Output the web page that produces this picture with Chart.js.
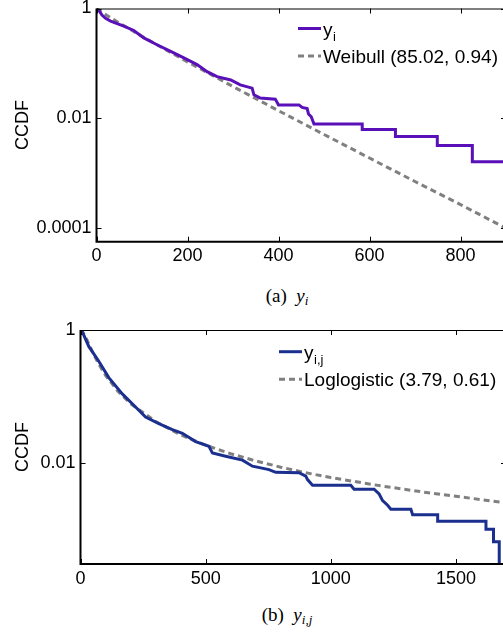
<!DOCTYPE html>
<html>
<head>
<meta charset="utf-8">
<script src="https://cdn.jsdelivr.net/npm/chart.js@4"></script>
<style>
  body { margin: 0; background: #fff; overflow: hidden; width: 503px; height: 635px; }
  .box { position: absolute; left: 0; }
  .cap { position: absolute; left: 187px; width: 200px; text-align: center;
         font-family: "Liberation Serif", "DejaVu Serif", serif; font-size: 19px; color: #000; }
  .cap i sub { font-size: 13px; vertical-align: -3px; line-height: 0; }
</style>
</head>
<body>
<div class="box" style="top:0"><canvas id="chartA" width="506" height="275"></canvas></div>
<div class="cap" style="top:285px">(a)&nbsp; <i>y<sub>i</sub></i></div>
<div class="box" style="top:320px"><canvas id="chartB" width="506" height="280"></canvas></div>
<div class="cap" style="top:604px">(b)&nbsp; <i>y<sub>i,j</sub></i></div>
<script>
// (a) empirical CCDF of y_i and Weibull fit
const aX = [0, 5, 12, 20, 31, 60, 82, 104, 133, 163, 192, 221, 243, 265, 295, 316, 342, 346, 360, 393,
            400, 445, 452, 463, 466, 472, 478, 584, 584, 657, 657, 749, 749, 826, 826, 900];
const aY = [1, 0.933, 0.759, 0.661, 0.589, 0.479, 0.398, 0.291, 0.219, 0.166, 0.126, 0.0955, 0.0708, 0.0575,
            0.0501, 0.0407, 0.0355, 0.0269, 0.0234, 0.0224, 0.0176, 0.0176, 0.0158, 0.0151, 0.012, 0.0107,
            0.0079, 0.0079, 0.0063, 0.0063, 0.0047, 0.0047, 0.0032, 0.0032, 0.00162, 0.00162];
const aFitX = [0, 10, 25, 50, 100, 150, 200, 300, 400, 500, 600, 700, 800, 900];
const aFitY = [1, 0.875, 0.73, 0.545, 0.312, 0.182, 0.107, 0.038, 0.0138, 0.0051, 0.0019, 0.00071, 0.00027, 0.0001];
const aXTicks = [0, 200, 400, 600, 800];
const aYTicks = [1, 0.01, 0.0001];

// (b) empirical CCDF of y_i,j and log-logistic fit
const bX = [0, 7, 33, 73, 113, 167, 220, 260, 313, 367, 407, 460, 513, 520, 527, 580, 647, 687, 753, 780,
            873, 900, 907, 927, 1080, 1093, 1173, 1193, 1207, 1227, 1240, 1320, 1327, 1427, 1427, 1620, 1620,
            1650, 1650, 1673, 1673];
const bY = [1, 0.944, 0.566, 0.339, 0.192, 0.109, 0.0692, 0.049, 0.0389, 0.0316, 0.0279, 0.0209, 0.0178,
            0.0158, 0.0141, 0.0126, 0.011, 0.0089, 0.0079, 0.0072, 0.0071, 0.0063, 0.0056, 0.0046, 0.0046,
            0.004, 0.004, 0.0034, 0.0027, 0.0023, 0.002, 0.002, 0.00166, 0.00166, 0.00132, 0.00132, 0.001,
            0.001, 0.00065, 0.00065, 0.0001];
const bFitX = [0, 5, 10, 25, 50, 75, 100, 150, 200, 300, 400, 500, 600, 700, 800, 900, 1000, 1200, 1400, 1600, 1700];
const bFitY = [1, 0.97, 0.92, 0.72, 0.45, 0.297, 0.208, 0.119, 0.078, 0.042, 0.0264, 0.0184, 0.0137, 0.0107,
               0.0086, 0.0071, 0.006, 0.0045, 0.0035, 0.0028, 0.0025];
const bXTicks = [0, 500, 1000, 1500];
const bYTicks = [1, 0.01];

Chart.defaults.font.family = '"Liberation Sans", Arial, Helvetica, sans-serif';
Chart.defaults.font.size = 18;
Chart.defaults.color = '#000';

const toPts = (xs, ys) => xs.map((x, i) => ({x: x, y: ys[i]}));

// box with inward ticks, MATLAB style
const frame = {
  id: 'frame',
  afterDatasetsDraw(chart) {
    const {ctx, chartArea: a, scales: {x, y}} = chart;
    ctx.save();
    ctx.strokeStyle = '#000';
    ctx.lineWidth = 1;
    ctx.beginPath();
    ctx.moveTo(a.left, a.top + 0.5); ctx.lineTo(a.right, a.top + 0.5);
    ctx.moveTo(a.right - 0.5, a.top); ctx.lineTo(a.right - 0.5, a.bottom);
    x.ticks.forEach(t => {
      const px = Math.round(x.getPixelForValue(t.value)) + 0.5;
      ctx.moveTo(px, a.bottom); ctx.lineTo(px, a.bottom - 5);
      ctx.moveTo(px, a.top); ctx.lineTo(px, a.top + 5);
    });
    y.ticks.forEach(t => {
      const py = Math.round(y.getPixelForValue(t.value)) + 0.5;
      ctx.moveTo(a.left, py); ctx.lineTo(a.left + 5, py);
      ctx.moveTo(a.right, py); ctx.lineTo(a.right - 5, py);
    });
    ctx.stroke();
    ctx.lineWidth = 2;
    ctx.beginPath();
    ctx.moveTo(a.left, a.top); ctx.lineTo(a.left, a.bottom); ctx.lineTo(a.right, a.bottom);
    ctx.stroke();
    ctx.restore();
  }
};

// legend with subscripts
const subLegend = {
  id: 'subLegend',
  afterDraw(chart, args, o) {
    const ctx = chart.ctx;
    ctx.save();
    o.items.forEach((it, i) => {
      const ry = o.y + i * o.gap;
      ctx.strokeStyle = it.color;
      ctx.lineWidth = 3;
      ctx.setLineDash(it.dash || []);
      ctx.beginPath();
      ctx.moveTo(o.x, ry); ctx.lineTo(o.x + 23, ry);
      ctx.stroke();
      ctx.setLineDash([]);
      ctx.fillStyle = '#000';
      ctx.textBaseline = 'alphabetic';
      ctx.font = '19px "Liberation Sans", Arial, sans-serif';
      const tx = o.x + 25;
      ctx.fillText(it.text, tx, ry + 7);
      if (it.sub) {
        const w = ctx.measureText(it.text).width;
        ctx.font = '13px "Liberation Sans", Arial, sans-serif';
        ctx.fillText(it.sub, tx + w + 0.5, ry + 12);
      }
    });
    ctx.restore();
  }
};

function makeChart(id, cfg) {
  return new Chart(document.getElementById(id), {
    type: 'line',
    data: {
      datasets: [
        {label: cfg.name, data: cfg.data, borderColor: cfg.color, borderWidth: 3,
         pointRadius: 0, tension: 0},
        {label: cfg.fitName, data: cfg.fit, borderColor: '#808080', borderWidth: 3,
         borderDash: [6, 4], pointRadius: 0, tension: 0}
      ]
    },
    options: {
      responsive: false,
      animation: false,
      layout: {padding: {top: cfg.padTop, left: 0, right: 0, bottom: 0}},
      plugins: {
        legend: {display: false},
        tooltip: {enabled: false},
        subLegend: cfg.legend
      },
      scales: {
        x: {
          type: 'linear', min: 0, max: cfg.xMax,
          grid: {display: false, drawTicks: false},
          border: {display: false},
          ticks: {padding: 4, maxRotation: 0, callback: v => String(v)},
          afterBuildTicks: s => { s.ticks = cfg.xTicks.map(v => ({value: v})); },
          afterFit: s => { s.height = cfg.xH; s.paddingLeft = 0; s.paddingRight = 0; }
        },
        y: {
          type: 'logarithmic', min: cfg.yMin, max: 1,
          grid: {display: false, drawTicks: false},
          border: {display: false},
          ticks: {padding: 5, callback: v => String(v)},
          title: {display: true, text: 'CCDF', padding: {top: 12, bottom: 0}},
          afterBuildTicks: s => { s.ticks = cfg.yTicks.map(v => ({value: v})); },
          afterFit: s => { s.width = cfg.yW; s.paddingTop = 0; s.paddingBottom = 0; }
        }
      }
    },
    plugins: [frame, subLegend]
  });
}

makeChart('chartA', {
  name: 'y_i', fitName: 'Weibull (85.02, 0.94)', color: '#5a10b8',
  data: toPts(aX, aY), fit: toPts(aFitX, aFitY),
  xMax: 900, yMin: 5.7e-5, xTicks: aXTicks, yTicks: aYTicks,
  padTop: 8.5, xH: 33.3, yW: 96.5,
  legend: {x: 298, y: 28.5, gap: 27.5, items: [
    {color: '#5a10b8', text: 'y', sub: 'i'},
    {color: '#808080', dash: [6, 4], text: 'Weibull (85.02, 0.94)'}
  ]}
});

makeChart('chartB', {
  name: 'y_i,j', fitName: 'Loglogistic (3.79, 0.61)', color: '#1b2f8f',
  data: toPts(bX, bY), fit: toPts(bFitX, bFitY),
  xMax: 1700, yMin: 3.3e-4, xTicks: bXTicks, yTicks: bYTicks,
  padTop: 10, xH: 36, yW: 80.5,
  legend: {x: 279, y: 31.7, gap: 27.5, items: [
    {color: '#1b2f8f', text: 'y', sub: 'i,j'},
    {color: '#808080', dash: [6, 4], text: 'Loglogistic (3.79, 0.61)'}
  ]}
});
</script>
</body>
</html>
